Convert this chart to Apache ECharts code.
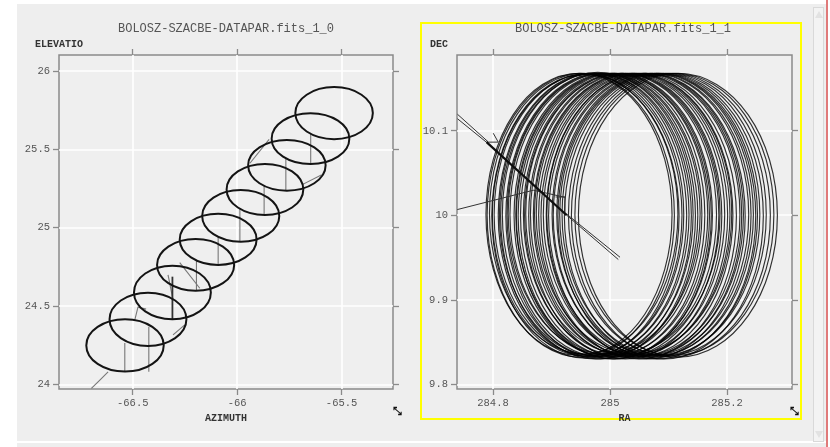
<!DOCTYPE html>
<html>
<head>
<meta charset="utf-8">
<script src="https://cdn.jsdelivr.net/npm/echarts@6/dist/echarts.min.js"></script>
<style>
  html, body { margin: 0; padding: 0; background: #ffffff; }
  #wrap { position: relative; width: 830px; height: 447px; overflow: hidden; }
  #panel { position: absolute; left: 17px; top: 4px; width: 809px; height: 437px; background: #eeeeee; }
  #footer { position: absolute; left: 17px; top: 443px; width: 809px; height: 4px; background: #eeeeee; }
  #scroll { position: absolute; left: 813px; top: 7px; width: 9px; height: 433px; background: #f3f3f3; border: 1px solid #d9d9d9; }
  #scroll .up, #scroll .down { position: absolute; left: 1px; width: 0; height: 0; border-left: 4px solid transparent; border-right: 4px solid transparent; }
  #scroll .up { top: 3px; border-bottom: 7px solid #e2e2e2; }
  #scroll .down { bottom: 3px; border-top: 7px solid #e2e2e2; }
  #edge { position: absolute; left: 826px; top: 0; width: 2px; height: 447px; background: #e07a7a; }
  #chart { position: absolute; left: 0; top: 0; width: 830px; height: 447px; }
</style>
</head>
<body>
<div id="wrap">
  <div id="panel"></div>
  <div id="footer"></div>
  <div id="scroll"><div class="up"></div><div class="down"></div></div>
  <div id="edge"></div>
  <div id="chart"></div>
</div>
<script>
// ---- Left panel: azimuth / elevation scan loops ----
const azRange = [-66.853, -65.254];
const elRange = [23.97, 26.102];
const azTicks = [-66.5, -66, -65.5];
const elTicks = [24, 24.5, 25, 25.5, 26];

const loopAz = [-65.536, -65.649, -65.762, -65.867, -65.983, -66.091, -66.199, -66.310, -66.427, -66.537];
const loopEl = [25.731, 25.568, 25.398, 25.244, 25.075, 24.925, 24.762, 24.586, 24.415, 24.248];
const loopAzHalf = [0.1855, 0.186, 0.1855, 0.1836, 0.1846, 0.184, 0.1846, 0.184, 0.184, 0.1853];
const loopElHalf = [0.166, 0.162, 0.162, 0.163, 0.165, 0.163, 0.165, 0.171, 0.170, 0.167];

// telescope slews between consecutive loops
const azElJumps = [
  [[-65.648, 25.598], [-65.648, 25.409]],
  [[-65.767, 25.443], [-65.767, 25.236]],
  [[-65.871, 25.268], [-65.871, 25.081]],
  [[-65.987, 25.121], [-65.987, 24.911]],
  [[-66.091, 24.941], [-66.091, 24.762]],
  [[-66.195, 24.790], [-66.195, 24.598]],
  [[-66.423, 24.368], [-66.423, 24.080]],
  [[-66.538, 24.264], [-66.538, 24.080]],
  [[-65.939, 25.411], [-65.847, 25.564]],
  [[-65.691, 25.273], [-65.595, 25.337]],
  [[-66.275, 24.777], [-66.179, 24.613]],
  [[-66.331, 24.698], [-66.307, 24.539]],
  [[-66.490, 24.411], [-66.475, 24.492], [-66.436, 24.480]],
  [[-66.307, 24.315], [-66.251, 24.379]],
  [[-66.618, 24.080], [-66.655, 24.030], [-66.698, 23.974]]
];
const azElHeavyJump = [[-66.310, 24.687], [-66.310, 24.417]];

// ---- Right panel: RA / DEC scan loops ----
const raRange = [284.7385, 285.311];
const decRange = [9.7944, 10.1896];
const raTicks = [284.8, 285, 285.2];
const decTicks = [9.8, 9.9, 10, 10.1];

const loopRa = [284.947, 284.950, 284.955, 284.958, 284.961, 284.964, 284.970, 284.973, 284.976, 284.979,
                284.984, 284.987, 284.990, 284.993, 284.999, 285.003, 285.005, 285.008, 285.011, 285.017,
                285.020, 285.022, 285.026, 285.030, 285.035, 285.038, 285.041, 285.044, 285.049, 285.054,
                285.058, 285.060, 285.063, 285.069, 285.072, 285.077, 285.080, 285.083, 285.087, 285.092,
                285.098, 285.104, 285.110, 285.116];
const loopDec = [10.001, 10.000, 10.002, 9.999, 10.000, 10.001, 10.000, 10.001, 9.999, 10.001,
                 9.999, 10.000, 10.002, 10.001, 10.000, 10.001, 9.999, 9.999, 10.000, 10.001,
                 10.000, 10.002, 9.999, 10.001, 10.000, 10.001, 10.002, 10.000, 9.999, 10.001,
                 10.000, 10.001, 9.999, 10.001, 10.000, 10.001, 9.999, 10.000, 10.001, 9.999,
                 10.001, 10.000, 10.001, 10.000];
const loopRaHalf = [0.159, 0.160, 0.161, 0.160, 0.162, 0.162, 0.161, 0.162, 0.163, 0.163,
                    0.162, 0.163, 0.164, 0.164, 0.163, 0.164, 0.165, 0.165, 0.164, 0.165,
                    0.166, 0.166, 0.165, 0.166, 0.166, 0.167, 0.167, 0.166, 0.167, 0.168,
                    0.167, 0.168, 0.168, 0.168, 0.169, 0.168, 0.169, 0.169, 0.169, 0.170,
                    0.169, 0.170, 0.170, 0.170];
const loopDecHalf = [0.167, 0.168, 0.166, 0.168, 0.167, 0.167, 0.168, 0.167, 0.169, 0.168,
                     0.169, 0.168, 0.166, 0.167, 0.168, 0.167, 0.169, 0.169, 0.168, 0.167,
                     0.168, 0.166, 0.169, 0.167, 0.168, 0.167, 0.166, 0.168, 0.169, 0.167,
                     0.168, 0.167, 0.169, 0.167, 0.168, 0.167, 0.169, 0.168, 0.167, 0.169,
                     0.167, 0.168, 0.167, 0.168];

const raDecTracks = [
  [[284.7393, 10.1195], [284.7915, 10.0870]],
  [[284.7393, 10.1142], [284.7895, 10.0860]],
  [[284.7890, 10.0865], [284.8090, 10.0865], [284.8005, 10.0970]],
  [[284.9260, 10.0000], [285.0142, 9.9476]],
  [[284.9230, 10.0030], [285.0171, 9.9503]],
  [[284.7390, 10.0067], [284.8689, 10.0296], [284.9230, 10.0213]],
  [[284.9070, 10.0216], [284.9230, 10.0216], [284.9230, 10.0000]]
];
const raDecHeavyTrack = [[284.7890, 10.0865], [284.9260, 10.0000]];

const titles = ['BOLOSZ-SZACBE-DATAPAR.fits_1_0', 'BOLOSZ-SZACBE-DATAPAR.fits_1_1'];

const mono = "'Liberation Mono', 'DejaVu Sans Mono', monospace";
const frameGray = '#8a8a8a';

function axis(gridIndex, position, range, ticks, labelled, name, nameOpts) {
  const a = {
    type: 'value',
    gridIndex: gridIndex,
    position: position,
    min: range[0],
    max: range[1],
    axisLine: { show: false },
    axisTick: { show: true, inside: false, length: 6, customValues: ticks,
                lineStyle: { color: frameGray, width: 1.3 } },
    axisLabel: { show: labelled, customValues: ticks, margin: 9, color: '#555555',
                 fontFamily: mono, fontSize: 10.5 },
    splitLine: { show: labelled, lineStyle: { color: '#ffffff', width: 1.6 } }
  };
  if (name) {
    Object.assign(a, { name: name }, nameOpts);
  }
  return a;
}

const nameStyle = { fontFamily: mono, fontSize: 10, fontWeight: 'bold', color: '#333333' };

function loopRenderer(color, width) {
  return function (params, api) {
    const c = api.coord([api.value(0), api.value(1)]);
    const e = api.coord([api.value(0) + api.value(2), api.value(1) + api.value(3)]);
    return {
      type: 'ellipse',
      shape: { cx: c[0], cy: c[1], rx: Math.abs(e[0] - c[0]), ry: Math.abs(c[1] - e[1]) },
      style: { fill: null, stroke: color, lineWidth: width }
    };
  };
}

const chart = echarts.init(document.getElementById('chart'), null, { renderer: 'canvas' });

chart.setOption({
  animation: false,
  backgroundColor: 'transparent',
  grid: [
    { left: 59, top: 55, width: 334, height: 334, show: true, backgroundColor: '#efefef',
      borderColor: frameGray, borderWidth: 1.5 },
    { left: 457, top: 55, width: 335, height: 334, show: true, backgroundColor: '#efefef',
      borderColor: frameGray, borderWidth: 1.5 }
  ],
  xAxis: [
    axis(0, 'bottom', azRange, azTicks, true, 'AZIMUTH',
         { nameLocation: 'middle', nameGap: 18, nameTextStyle: nameStyle }),
    axis(0, 'top', azRange, azTicks, false),
    axis(1, 'bottom', raRange, raTicks, true, 'RA',
         { nameLocation: 'middle', nameGap: 18, nameTextStyle: nameStyle }),
    axis(1, 'top', raRange, raTicks, false)
  ],
  yAxis: [
    axis(0, 'left', elRange, elTicks, true, 'ELEVATIO',
         { nameLocation: 'end', nameGap: 6, nameTextStyle: Object.assign({ align: 'center' }, nameStyle) }),
    axis(0, 'right', elRange, elTicks, false),
    axis(1, 'left', decRange, decTicks, true, 'DEC',
         { nameLocation: 'end', nameGap: 6,
           nameTextStyle: Object.assign({ align: 'right', padding: [0, 9, 0, 0] }, nameStyle) }),
    axis(1, 'right', decRange, decTicks, false)
  ],
  series: [
    {
      type: 'lines', coordinateSystem: 'cartesian2d', xAxisIndex: 0, yAxisIndex: 0,
      polyline: true, silent: true, z: 2,
      lineStyle: { color: '#777777', width: 1.1, opacity: 1 },
      data: azElJumps.map(p => ({ coords: p }))
    },
    {
      type: 'lines', coordinateSystem: 'cartesian2d', xAxisIndex: 0, yAxisIndex: 0,
      polyline: true, silent: true, z: 2,
      lineStyle: { color: '#333333', width: 1.8, opacity: 1 },
      data: [{ coords: azElHeavyJump }]
    },
    {
      type: 'custom', xAxisIndex: 0, yAxisIndex: 0, silent: true, clip: true, z: 3,
      encode: { x: 0, y: 1 },
      data: loopAz.map((v, i) => [v, loopEl[i], loopAzHalf[i], loopElHalf[i]]),
      renderItem: loopRenderer('#141414', 2)
    },
    {
      type: 'custom', xAxisIndex: 2, yAxisIndex: 2, silent: true, clip: true, z: 3,
      encode: { x: 0, y: 1 },
      data: loopRa.map((v, i) => [v, loopDec[i], loopRaHalf[i], loopDecHalf[i]]),
      renderItem: loopRenderer('rgba(0,0,0,0.8)', 1.15)
    },
    {
      type: 'lines', coordinateSystem: 'cartesian2d', xAxisIndex: 2, yAxisIndex: 2,
      polyline: true, silent: true, z: 4,
      lineStyle: { color: '#333333', width: 1, opacity: 1 },
      data: raDecTracks.map(p => ({ coords: p }))
    },
    {
      type: 'lines', coordinateSystem: 'cartesian2d', xAxisIndex: 2, yAxisIndex: 2,
      polyline: true, silent: true, z: 4,
      lineStyle: { color: '#0d0d0d', width: 2.2, opacity: 1 },
      data: [{ coords: raDecHeavyTrack }]
    }
  ],
  graphic: [
    { type: 'rect', shape: { x: 421, y: 23, width: 380, height: 396 },
      style: { fill: null, stroke: '#ffff00', lineWidth: 2 }, silent: true },
    { type: 'text', x: 226, y: 29,
      style: { text: titles[0], fontFamily: mono, fontSize: 12, fill: '#555555',
               align: 'center', verticalAlign: 'middle' } },
    { type: 'text', x: 623, y: 29,
      style: { text: titles[1], fontFamily: mono, fontSize: 12, fill: '#555555',
               align: 'center', verticalAlign: 'middle' } },
    { type: 'text', x: 397, y: 412,
      style: { text: '⤡', fontFamily: "'DejaVu Sans'", fontSize: 11, fontWeight: 'bold', fill: '#111111',
               align: 'center', verticalAlign: 'middle' } },
    { type: 'text', x: 794, y: 412,
      style: { text: '⤡', fontFamily: "'DejaVu Sans'", fontSize: 11, fontWeight: 'bold', fill: '#111111',
               align: 'center', verticalAlign: 'middle' } }
  ]
});
</script>
</body>
</html>
